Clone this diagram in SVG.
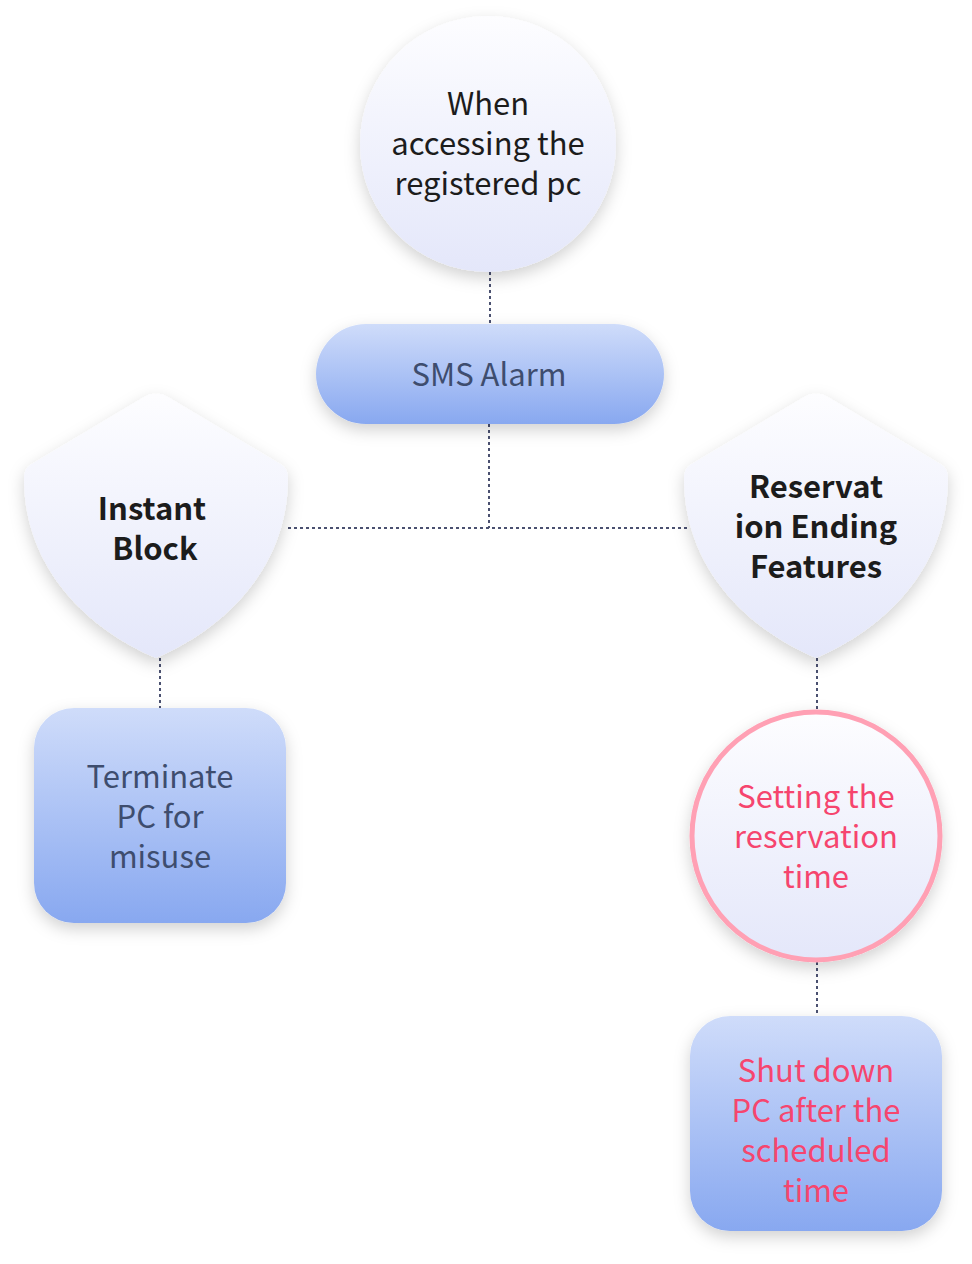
<svg xmlns="http://www.w3.org/2000/svg" width="972" height="1264" viewBox="0 0 972 1264">
<defs>
<linearGradient id="gLav" x1="0" y1="0" x2="0" y2="1">
<stop offset="0" stop-color="#fdfdff"/>
<stop offset="1" stop-color="#e4e7fa"/>
</linearGradient>
<linearGradient id="gBlue" x1="0" y1="0" x2="0" y2="1">
<stop offset="0" stop-color="#cfdcfa"/>
<stop offset="1" stop-color="#88a8f0"/>
</linearGradient>
<filter id="sh" x="-30%" y="-30%" width="160%" height="160%">
<feDropShadow dx="0" dy="6" stdDeviation="8" flood-color="#000" flood-opacity="0.18"/>
</filter>
<style>
.t{font-family:"Noto Sans CJK KR","Noto Sans",sans-serif;font-size:31px;text-anchor:middle}
.dark{fill:#1c1c1c}
.slate{fill:#3e4d6e}
.pink{fill:#f6456e}
.bold{font-weight:bold}
.conn{stroke:#4a5070;stroke-width:2;stroke-dasharray:3 3;fill:none}
</style>
</defs>
<g id="connectors">
<line class="conn" x1="490" y1="272" x2="490" y2="324"/>
<line class="conn" x1="489" y1="424" x2="489" y2="528"/>
<line class="conn" x1="288" y1="528" x2="688" y2="528"/>
<line class="conn" x1="160" y1="658" x2="160" y2="708"/>
<line class="conn" x1="817" y1="658" x2="817" y2="710"/>
<line class="conn" x1="817" y1="962" x2="817" y2="1016"/>
</g>
<g id="node-access">
<circle cx="488" cy="144" r="128" fill="url(#gLav)" filter="url(#sh)"/>
<text class="t dark" x="488" y="115">When</text>
<text class="t dark" x="488" y="155">accessing the</text>
<text class="t dark" x="488" y="195">registered pc</text>
</g>
<g id="node-sms">
<rect x="316" y="324" width="348" height="100" rx="50" fill="url(#gBlue)" filter="url(#sh)"/>
<text class="t slate" x="489" y="386">SMS Alarm</text>
</g>
<g id="node-instant">
<path d="M156,394 Q150,393 144,397 L30,465 Q24,469 24,478 C24,570 90,630 156,658 C222,630 288,570 288,478 Q288,469 282,465 L168,397 Q162,393 156,394 Z" fill="url(#gLav)" filter="url(#sh)"/>
<text class="t dark bold" x="152" y="520">Instant</text>
<text class="t dark bold" x="155" y="560">Block</text>
</g>
<g id="node-reservation">
<path d="M816,394 Q810,393 804,397 L690,465 Q684,469 684,478 C684,570 750,630 816,658 C882,630 948,570 948,478 Q948,469 942,465 L828,397 Q822,393 816,394 Z" fill="url(#gLav)" filter="url(#sh)"/>
<text class="t dark bold" x="816" y="498">Reservat</text>
<text class="t dark bold" x="816" y="538">ion Ending</text>
<text class="t dark bold" x="816" y="578">Features</text>
</g>
<g id="node-terminate">
<rect x="34" y="708" width="252" height="215" rx="40" fill="url(#gBlue)" filter="url(#sh)"/>
<text class="t slate" x="160" y="788">Terminate</text>
<text class="t slate" x="160" y="828">PC for</text>
<text class="t slate" x="160" y="868">misuse</text>
</g>
<g id="node-setting">
<circle cx="816" cy="836" r="124" fill="url(#gLav)" stroke="#ffa0b4" stroke-width="5" filter="url(#sh)"/>
<text class="t pink" x="816" y="808">Setting the</text>
<text class="t pink" x="816" y="848">reservation</text>
<text class="t pink" x="816" y="888">time</text>
</g>
<g id="node-shutdown">
<rect x="690" y="1016" width="252" height="215" rx="40" fill="url(#gBlue)" filter="url(#sh)"/>
<text class="t pink" x="816" y="1082">Shut down</text>
<text class="t pink" x="816" y="1122">PC after the</text>
<text class="t pink" x="816" y="1162">scheduled</text>
<text class="t pink" x="816" y="1202">time</text>
</g>
</svg>
